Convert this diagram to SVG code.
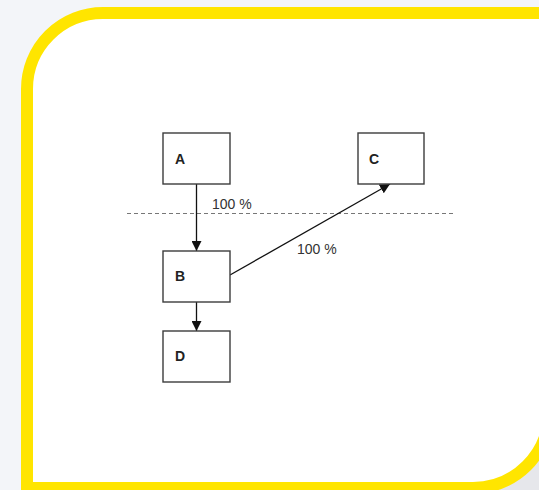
<svg xmlns="http://www.w3.org/2000/svg" width="539" height="490" viewBox="0 0 539 490">
<defs>
<style>
.box{fill:#fff;stroke:#3c3c3c;stroke-width:1.4}
.lbl{font-family:"Liberation Sans",Arial,sans-serif;font-size:14px;fill:#333}
.node{font-family:"Liberation Sans",Arial,sans-serif;font-size:14px;font-weight:bold;fill:#222}
.edge{stroke:#111;stroke-width:1.3;fill:none}
</style>
<marker id="arr" markerWidth="10" markerHeight="10" viewBox="0 0 10 10" refX="10" refY="5" orient="auto" markerUnits="userSpaceOnUse">
<path d="M0,0 L10,5 L0,10 Z" fill="#111"/>
</marker>
</defs>
<rect x="0" y="0" width="539" height="490" fill="#f3f5f9"/>
<rect x="440" y="400" width="99" height="90" fill="#e6e7eb"/>
<path d="M27,89 A76,76 0 0 1 103,13 L560,13 L560,336 L549,336 L549,412 A76,76 0 0 1 473,488 L27,488 Z" fill="#fff" stroke="#ffe500" stroke-width="12"/>
<line x1="127" y1="213.5" x2="453" y2="213.5" stroke="#777" stroke-width="1" stroke-dasharray="4,3"/>
<g id="connectors">
<line class="edge" x1="196.5" y1="184" x2="196.5" y2="251" marker-end="url(#arr)"/>
<line class="edge" x1="196.5" y1="302" x2="196.5" y2="331" marker-end="url(#arr)"/>
<line class="edge" x1="230" y1="275" x2="390" y2="184" marker-end="url(#arr)"/>
<text class="lbl" x="212" y="209">100 %</text>
<text class="lbl" x="297" y="254">100 %</text>
</g>
<g id="A"><rect class="box" x="163" y="133" width="67" height="51"/><text class="node" x="175" y="164">A</text></g>
<g id="C"><rect class="box" x="358" y="133" width="66" height="51"/><text class="node" x="369" y="164">C</text></g>
<g id="B"><rect class="box" x="163" y="251" width="67" height="51"/><text class="node" x="175" y="281">B</text></g>
<g id="D"><rect class="box" x="163" y="331" width="67" height="51"/><text class="node" x="175" y="361">D</text></g>
</svg>
